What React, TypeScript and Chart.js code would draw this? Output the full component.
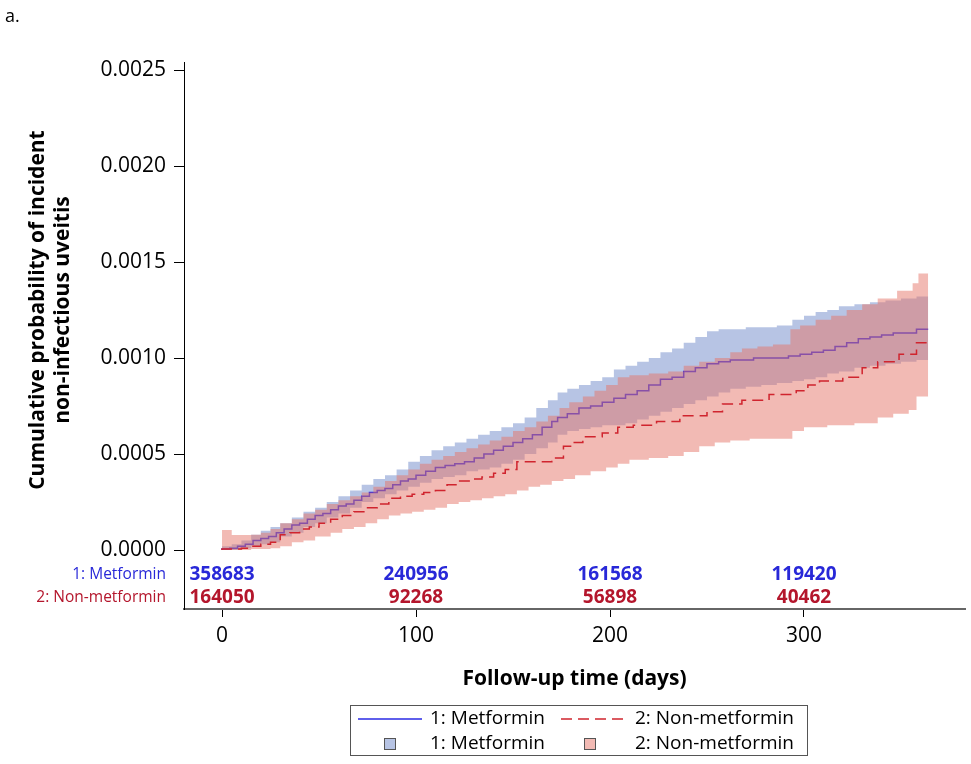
import React, { useEffect, useRef } from "react";
import { Chart, registerables } from "chart.js";
Chart.register(...registerables);

const FONT = "'Open Sans', 'Noto Sans', sans-serif";

const riskTimes = [0, 100, 200, 300];
const riskMetformin = [358683, 240956, 161568, 119420];
const riskNonMetformin = [164050, 92268, 56898, 40462];
const yTickValues = [0, 0.0005, 0.001, 0.0015, 0.002, 0.0025];
const xTickValues = [0, 100, 200, 300];
const endDay = 364;

// Metformin KM estimate
const metTimes = [0, 4, 8, 12, 16, 20, 24, 28, 32, 36, 40, 44, 48, 52, 56, 60, 64, 68, 72, 76, 80, 84, 88, 92, 96, 100, 105, 110, 115, 120, 125, 130, 135, 140, 145, 150, 155, 160, 165, 170, 173, 178, 184, 190, 196, 202, 208, 214, 220, 226, 232, 238, 244, 250, 256, 262, 268, 274, 280, 286, 292, 298, 304, 310, 316, 322, 328, 334, 340, 346, 352, 358, 363];
const metEst = [0, 0.000005, 0.00001, 0.00002, 0.00003, 0.00005, 0.00006, 0.00007, 0.00009, 0.00011, 0.00013, 0.00014, 0.00016, 0.00018, 0.00019, 0.00021, 0.00023, 0.00024, 0.00026, 0.00028, 0.0003, 0.00031, 0.00032, 0.00034, 0.00036, 0.00037, 0.00039, 0.00041, 0.00043, 0.00044, 0.00045, 0.00046, 0.00048, 0.0005, 0.00052, 0.00054, 0.00056, 0.00058, 0.0006, 0.00064, 0.00067, 0.00069, 0.00071, 0.00074, 0.00075, 0.00077, 0.00079, 0.00081, 0.00083, 0.00086, 0.00089, 0.0009, 0.00093, 0.00095, 0.00097, 0.00098, 0.00099, 0.00099, 0.001, 0.001, 0.001, 0.00101, 0.00102, 0.00103, 0.00104, 0.00106, 0.00108, 0.0011, 0.00111, 0.00112, 0.00113, 0.00113, 0.00115];

// Metformin confidence band
const metBandTimes = [0, 5, 10, 15, 20, 25, 30, 36, 42, 48, 54, 60, 66, 72, 78, 84, 90, 96, 102, 108, 114, 120, 126, 132, 138, 144, 150, 156, 162, 168, 173, 178, 184, 190, 196, 202, 208, 214, 220, 226, 232, 238, 244, 250, 256, 262, 270, 278, 286, 294, 300, 306, 312, 318, 326, 334, 342, 350, 358, 363];
const metUpper = [0, 0.00002, 0.00003, 0.00005, 0.00008, 0.0001, 0.00012, 0.00014, 0.00017, 0.0002, 0.00022, 0.00025, 0.00028, 0.00031, 0.00034, 0.00037, 0.00039, 0.00042, 0.00046, 0.00049, 0.00052, 0.00054, 0.00056, 0.00058, 0.0006, 0.00062, 0.00064, 0.00066, 0.00069, 0.00074, 0.00078, 0.00082, 0.00084, 0.00086, 0.00088, 0.0009, 0.00094, 0.00096, 0.00098, 0.001, 0.00103, 0.00105, 0.00108, 0.00111, 0.00114, 0.00115, 0.00115, 0.00116, 0.00116, 0.00117, 0.0012, 0.00122, 0.00124, 0.00125, 0.00127, 0.00128, 0.00129, 0.0013, 0.00131, 0.00132];
const metLower = [0, 0, 0, 0.00001, 0.00002, 0.00003, 0.00004, 0.00007, 0.00009, 0.00012, 0.00014, 0.00017, 0.00019, 0.00022, 0.00025, 0.00027, 0.00029, 0.00031, 0.00033, 0.00035, 0.00037, 0.00038, 0.00039, 0.00041, 0.00042, 0.00043, 0.00045, 0.00047, 0.0005, 0.00053, 0.00056, 0.0006, 0.00062, 0.00063, 0.00064, 0.00065, 0.00065, 0.00066, 0.00068, 0.0007, 0.00072, 0.00074, 0.00076, 0.00078, 0.0008, 0.00082, 0.00084, 0.00085, 0.00086, 0.00087, 0.00088, 0.00089, 0.0009, 0.00092, 0.00093, 0.00095, 0.00096, 0.00097, 0.00098, 0.00099];

// Non-metformin KM estimate
const nonTimes = [0, 10, 15, 20, 25, 30, 35, 40, 45, 50, 56, 62, 68, 74, 80, 86, 92, 98, 104, 110, 116, 122, 128, 134, 140, 146, 152, 157, 164, 170, 176, 181, 186, 196, 204, 212, 224, 236, 250, 258, 268, 282, 296, 302, 308, 320, 330, 338, 349, 358, 362];
const nonEst = [0, 0.000005, 0.00001, 0.00002, 0.00003, 0.00004, 0.00008, 0.00009, 0.00011, 0.00012, 0.00014, 0.00016, 0.00018, 0.0002, 0.00022, 0.00024, 0.00027, 0.00028, 0.00029, 0.0003, 0.00031, 0.00034, 0.00036, 0.00037, 0.00038, 0.0004, 0.00042, 0.00046, 0.00046, 0.00046, 0.00048, 0.00054, 0.00056, 0.00059, 0.00061, 0.00064, 0.00065, 0.00067, 0.0007, 0.00072, 0.00076, 0.00078, 0.00081, 0.00083, 0.00086, 0.00088, 0.0009, 0.00095, 0.00098, 0.00102, 0.00108];

// Non-metformin confidence band
const nonUpperTimes = [0, 5, 8, 15, 20, 25, 30, 36, 42, 48, 54, 60, 66, 72, 78, 84, 90, 96, 102, 108, 114, 120, 126, 132, 138, 144, 150, 156, 162, 168, 174, 179, 186, 192, 198, 204, 210, 220, 230, 238, 246, 254, 262, 268, 276, 284, 293, 298, 306, 314, 322, 330, 338, 348, 356, 359, 363];
const nonUpper = [0, 0.000104, 0.000078, 0.000078, 0.00008, 0.00009, 0.00011, 0.00014, 0.00016, 0.00019, 0.00021, 0.00024, 0.00026, 0.00028, 0.0003, 0.00033, 0.00036, 0.00039, 0.00042, 0.00045, 0.00047, 0.00049, 0.00051, 0.00053, 0.00055, 0.00057, 0.00059, 0.00062, 0.00064, 0.00067, 0.0007, 0.00074, 0.00077, 0.0008, 0.00083, 0.00086, 0.0009, 0.00091, 0.00092, 0.00093, 0.00096, 0.00098, 0.001, 0.00103, 0.00105, 0.00106, 0.00107, 0.00115, 0.00117, 0.0012, 0.00122, 0.00125, 0.00128, 0.00131, 0.00135, 0.00139, 0.00144];
const nonLowerTimes = [0, 15, 25, 30, 36, 42, 48, 56, 62, 68, 74, 80, 86, 92, 98, 104, 110, 116, 122, 128, 134, 140, 146, 152, 158, 164, 170, 176, 182, 190, 198, 204, 210, 220, 230, 238, 246, 254, 262, 272, 284, 294, 300, 312, 326, 338, 346, 354, 358, 362];
const nonLower = [0, 0, 0.000005, 0.00001, 0.00002, 0.00004, 0.00005, 0.00007, 0.00009, 0.00011, 0.00012, 0.00014, 0.00016, 0.00018, 0.00019, 0.0002, 0.00021, 0.00022, 0.00024, 0.00025, 0.00026, 0.00027, 0.00028, 0.00029, 0.00031, 0.00033, 0.00034, 0.00036, 0.00037, 0.00039, 0.00041, 0.00043, 0.00045, 0.00047, 0.00048, 0.00049, 0.00051, 0.00054, 0.00056, 0.00057, 0.00058, 0.00058, 0.00062, 0.00064, 0.00065, 0.00066, 0.00069, 0.00071, 0.00073, 0.0008];

const BLUE_LINE = "rgb(42,42,228)";
const RED_LINE = "rgb(208,36,46)";
const BLUE_BAND = "rgba(111,137,201,0.5)";
const RED_BAND = "rgba(229,117,105,0.5)";
const BLUE_SWATCH = "rgb(183,196,228)";
const RED_SWATCH = "rgb(242,186,180)";
const BLUE_TEXT = "rgb(40,40,216)";
const RED_TEXT = "rgb(180,22,44)";

function pts(times: number[], vals: number[]) {
  const p = times.map((t, i) => ({ x: t, y: vals[i] }));
  p.push({ x: endDay, y: vals[vals.length - 1] });
  return p;
}

const overlay = {
  id: "overlay",
  afterDraw(chart: any) {
    const ctx = chart.ctx as CanvasRenderingContext2D;
    const xs = chart.scales.x;
    const ys = chart.scales.y;
    ctx.save();
    // panel letter
    ctx.fillStyle = "#000";
    ctx.font = `18px ${FONT}`;
    ctx.textAlign = "left";
    ctx.textBaseline = "middle";
    ctx.fillText("a.", 5, 17);

    // y title
    const yc = (ys.getPixelForValue(0) + ys.getPixelForValue(0.0025)) / 2;
    ctx.save();
    ctx.translate(38, yc);
    ctx.rotate(-Math.PI / 2);
    ctx.font = `bold 21px ${FONT}`;
    ctx.textAlign = "center";
    ctx.textBaseline = "middle";
    ctx.fillText("Cumulative probability of incident", 0, 0);
    ctx.fillText("non-infectious uveitis", 0, 25);
    ctx.restore();

    // x title
    ctx.font = `bold 21px ${FONT}`;
    ctx.textAlign = "center";
    ctx.textBaseline = "middle";
    ctx.fillText("Follow-up time (days)", (chart.chartArea.left + chart.chartArea.right) / 2, 679);

    // risk table
    const rowY = [575, 598];
    ctx.font = `15.5px ${FONT}`;
    ctx.textAlign = "right";
    ctx.fillStyle = BLUE_TEXT;
    ctx.fillText("1: Metformin", 166, rowY[0]);
    ctx.fillStyle = RED_TEXT;
    ctx.fillText("2: Non-metformin", 166, rowY[1]);
    ctx.font = `bold 19px ${FONT}`;
    ctx.textAlign = "center";
    riskTimes.forEach((t, i) => {
      const px = xs.getPixelForValue(t);
      ctx.fillStyle = BLUE_TEXT;
      ctx.fillText(String(riskMetformin[i]), px, rowY[0]);
      ctx.fillStyle = RED_TEXT;
      ctx.fillText(String(riskNonMetformin[i]), px, rowY[1]);
    });

    // legend
    ctx.strokeStyle = "#555";
    ctx.lineWidth = 1;
    ctx.strokeRect(350.5, 705.5, 457, 50);
    ctx.font = `19px ${FONT}`;
    ctx.textAlign = "left";
    ctx.fillStyle = "#000";
    const r1 = 719, r2 = 744;
    ctx.strokeStyle = BLUE_LINE;
    ctx.lineWidth = 1.5;
    ctx.beginPath();
    ctx.moveTo(358, r1);
    ctx.lineTo(422, r1);
    ctx.stroke();
    ctx.strokeStyle = RED_LINE;
    ctx.setLineDash([11, 6]);
    ctx.beginPath();
    ctx.moveTo(561, r1);
    ctx.lineTo(626, r1);
    ctx.stroke();
    ctx.setLineDash([]);
    ctx.fillText("1: Metformin", 430, r1);
    ctx.fillText("2: Non-metformin", 635, r1);
    ctx.fillText("1: Metformin", 430, r2);
    ctx.fillText("2: Non-metformin", 635, r2);
    ctx.lineWidth = 1;
    ctx.strokeStyle = "#555";
    ctx.fillStyle = BLUE_SWATCH;
    ctx.fillRect(384, r2 - 6, 12, 12);
    ctx.strokeRect(384.5, r2 - 5.5, 11, 11);
    ctx.fillStyle = RED_SWATCH;
    ctx.fillRect(584, r2 - 6, 12, 12);
    ctx.strokeRect(584.5, r2 - 5.5, 11, 11);
    ctx.restore();
  },
};

export default function App() {
  const ref = useRef<HTMLCanvasElement>(null);
  useEffect(() => {
    if (!ref.current) return;
    const chart = new Chart(ref.current, {
      type: "line",
      data: {
        datasets: [
          { label: "metLower", data: pts(metBandTimes, metLower), stepped: "after", borderWidth: 0, pointRadius: 0, fill: false, order: 6 },
          { label: "metUpper", data: pts(metBandTimes, metUpper), stepped: "after", borderWidth: 0, pointRadius: 0, fill: 0, backgroundColor: BLUE_BAND, order: 5 },
          { label: "1: Metformin", data: pts(metTimes, metEst), stepped: "after", borderColor: BLUE_LINE, borderWidth: 1.5, pointRadius: 0, fill: false, order: 4 },
          { label: "nonLower", data: pts(nonLowerTimes, nonLower), stepped: "after", borderWidth: 0, pointRadius: 0, fill: false, order: 3 },
          { label: "nonUpper", data: pts(nonUpperTimes, nonUpper), stepped: "after", borderWidth: 0, pointRadius: 0, fill: 3, backgroundColor: RED_BAND, order: 2 },
          { label: "2: Non-metformin", data: pts(nonTimes, nonEst), stepped: "after", borderColor: RED_LINE, borderWidth: 1.5, borderDash: [11, 6], pointRadius: 0, fill: false, order: 1 },
        ] as any,
      },
      options: {
        animation: false,
        responsive: false,
        devicePixelRatio: 1,
        layout: { padding: { left: 0, right: 6, top: 62, bottom: 0 } },
        plugins: {
          legend: { display: false },
          tooltip: { enabled: false },
          filler: { propagate: false, drawTime: "beforeDatasetDraw" } as any,
        },
        scales: {
          x: {
            type: "linear",
            min: -19.6,
            max: 383,
            afterFit: (s: any) => { s.height = 155; },
            afterBuildTicks: (s: any) => { s.ticks = xTickValues.map((v) => ({ value: v })); },
            grid: { display: true, drawOnChartArea: false, drawTicks: true, tickLength: 8, tickColor: "#000", color: "#000" },
            border: { display: true, color: "#666", width: 2 },
            ticks: { color: "#000", font: { family: FONT, size: 21 }, padding: 6, maxRotation: 0 },
          },
          y: {
            type: "linear",
            min: -0.000307,
            max: 0.0025417,
            afterFit: (s: any) => { s.width = 184; },
            afterBuildTicks: (s: any) => { s.ticks = yTickValues.map((v) => ({ value: v })); },
            grid: { display: true, drawOnChartArea: false, drawTicks: true, tickLength: 10, tickColor: "#000", color: "#000" },
            border: { display: true, color: "#000", width: 1 },
            ticks: { color: "#000", font: { family: FONT, size: 21 }, padding: 8, callback: (v: any) => Number(v).toFixed(4) },
          },
        },
      },
      plugins: [overlay],
    });
    return () => chart.destroy();
  }, []);
  return (
    <div style={{ position: "absolute", left: 0, top: 0, width: 971, height: 764, background: "#fff" }}>
      <canvas ref={ref} width={971} height={764} style={{ width: 971, height: 764 }} />
    </div>
  );
}
